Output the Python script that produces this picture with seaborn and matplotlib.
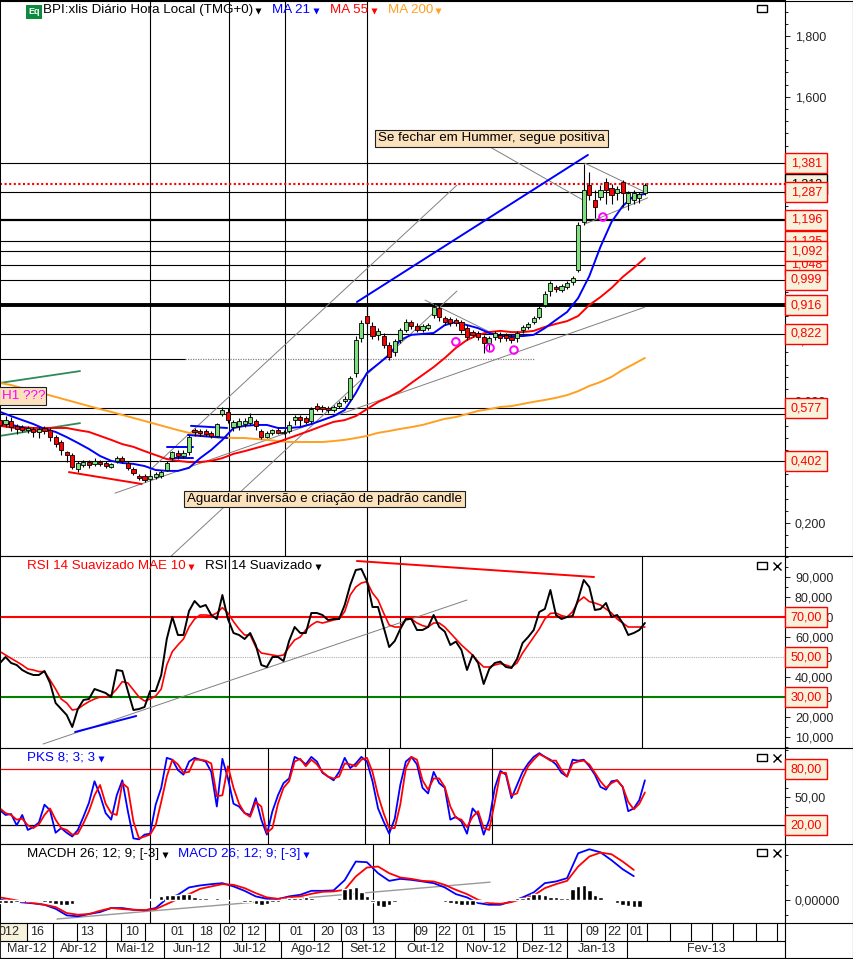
import matplotlib
matplotlib.use('Agg')
import matplotlib.pyplot as plt
import numpy as np
import seaborn as sns
from matplotlib.patches import Rectangle
from matplotlib.ticker import FuncFormatter, MultipleLocator

# candles, one every 2 sessions
opens = [.538,.525,.535,.519,.515,.505,.509,.499,.512,.505,.482,.466,.433,.423,.377,.390,.400,.394,.400,.397,.384,.404,.413,.397,.377,.354,.354,.344,.351,.354,
         .374,.413,.430,.420,.433,.505,.502,.502,.496,.486,.558,.565,.515,.519,.525,.528,.535,.502,.482,.496,.505,.496,.502,.538,.548,.545,.535,.584,.581,.578,
         .571,.584,.601,.607,.693,.808,.880,.847,.817,.814,.785,.762,.801,.834,.860,.847,.834,.841,.883,.906,.873,.870,.867,.860,.841,.827,.824,.811,.791,.811,
         .817,.817,.811,.808,.834,.844,.860,.877,.916,.962,.975,.965,.975,.992,1.031,1.189,1.310,1.261,1.271,1.320,1.300,1.284,1.320,1.251,1.261,1.268,1.284]
closes = [.522,.538,.515,.509,.505,.512,.499,.509,.502,.482,.459,.440,.423,.384,.397,.400,.390,.404,.394,.387,.394,.413,.404,.381,.364,.348,.341,.354,.361,.367,
          .397,.433,.420,.430,.482,.499,.496,.492,.486,.525,.571,.538,.532,.535,.535,.548,.519,.482,.496,.505,.496,.499,.522,.548,.538,.532,.574,.574,.574,.571,
          .581,.594,.607,.676,.801,.857,.857,.814,.831,.785,.745,.798,.834,.860,.847,.834,.847,.850,.910,.877,.860,.857,.857,.834,.811,.817,.811,.791,.808,.824,
          .808,.808,.801,.824,.844,.854,.873,.906,.952,.988,.969,.978,.988,1.005,1.179,1.294,1.277,1.238,1.294,1.294,1.277,1.297,1.284,1.284,1.284,1.281,1.310]
highs = [.545,.551,.548,.525,.522,.519,.515,.515,.519,.512,.489,.473,.436,.430,.404,.407,.407,.413,.407,.404,.397,.420,.420,.404,.384,.361,.361,.361,.367,.374,
         .404,.436,.440,.440,.489,.512,.509,.509,.502,.528,.581,.578,.538,.545,.545,.561,.542,.509,.502,.509,.512,.505,.535,.555,.555,.551,.581,.594,.588,.584,
         .588,.601,.617,.683,.814,.867,.916,.860,.841,.824,.795,.804,.841,.870,.867,.857,.854,.857,.923,.916,.880,.877,.873,.867,.850,.834,.831,.817,.814,.831,
         .827,.824,.821,.831,.850,.860,.880,.913,.962,.995,.982,.985,.995,1.011,1.189,1.379,1.353,1.294,1.310,1.333,1.313,1.307,1.327,1.290,1.294,1.287,1.317]
lows = [.512,.515,.502,.492,.499,.496,.482,.479,.492,.469,.450,.423,.400,.377,.367,.384,.381,.387,.387,.381,.381,.397,.397,.374,.358,.341,.335,.338,.344,.348,
        .371,.407,.410,.413,.423,.486,.486,.486,.479,.482,.551,.528,.502,.505,.515,.522,.505,.476,.479,.489,.492,.492,.496,.522,.519,.525,.528,.568,.565,.561,
        .565,.578,.594,.601,.680,.795,.844,.804,.801,.775,.735,.749,.791,.827,.837,.827,.827,.834,.873,.864,.850,.847,.847,.824,.801,.811,.801,.758,.768,.801,
        .795,.798,.791,.795,.824,.837,.854,.870,.910,.946,.959,.959,.969,.982,1.024,1.179,1.261,1.202,1.261,1.248,1.248,1.261,1.238,1.228,1.248,1.251,1.277]

# moving averages, one every 4 sessions
ma21 = [.565,.551,.538,.525,.509,.499,.482,.463,.443,.420,.404,.397,.394,.387,.374,.371,.371,.381,.413,.440,.473,.512,.519,.522,.522,.512,.512,.515,.525,.538,
        .551,.571,.627,.693,.722,.752,.801,.818,.821,.824,.850,.860,.850,.840,.824,.814,.814,.814,.818,.840,.867,.893,.939,1.011,1.107,1.189,1.241,1.274,1.281]
ma55 = [.522,.515,.515,.512,.512,.512,.512,.505,.499,.486,.473,.459,.450,.436,.423,.410,.404,.400,.400,.404,.413,.427,.436,.446,.456,.466,.479,.492,.505,.519,
        .532,.538,.551,.574,.597,.614,.633,.660,.686,.712,.742,.775,.801,.818,.827,.831,.827,.827,.831,.844,.854,.863,.880,.916,.942,.972,1.008,1.038,1.070]
ma200 = [.660,.653,.643,.633,.624,.614,.604,.594,.584,.574,.565,.555,.545,.535,.525,.515,.505,.496,.489,.486,.482,.479,.479,.476,.473,.469,.466,.466,.466,.466,
         .469,.473,.479,.486,.496,.502,.509,.515,.522,.532,.542,.548,.558,.568,.574,.581,.584,.591,.598,.604,.611,.620,.633,.650,.663,.680,.703,.722,.742]

# RSI, one every 2 sessions
rsi = [47,50,47,46,43.5,42,41,41,43,37,27,24,21,15,24,28.5,29,34,33,32,30,43.5,43,33,23.5,24,25,33,33,41,
       59,70,61,61,73,78,75,76,71,69,81,69,62,61,59,62,56,46,45,50,50,48,58,65,62,62,72,72,71,68.5,
       69,69,76,86,93.5,94,88,75,75,65,55,58,64,69,69,63.5,63.5,65,71,65,62.7,56,57.7,53.5,43.5,51,47,36.5,44,47,
       47.7,45,44.5,49,57,60,63.5,72.5,74,83.5,71,69,70,70.5,79,88.5,85,73.5,74,77,70,71,67,61,62,63.5,67]
rsi_ma = [52.7,51,49.3,47.7,46,44,43.5,42.7,42.7,38.5,34,29,27,23.5,24,26,27.7,29,30,30,31,34,37.7,37,33.5,30,28,29,30.5,34,
          46,52.7,56,59,65,69,71,71,70.7,72,74.7,72,67.7,64,61,61,55,52,51.5,51,50.5,51,55,58.5,60,63.5,66,67.7,67,67.7,
          68.5,69,72.7,81,85,87,87.7,82,78.5,72,66,65,65,69,69,67,65.7,65,67,67,65,62,59,56,53.5,51,47.7,45,45,46,
          46.7,46,45,47,52,56,60,64,69,71.8,72,70.7,70,72.7,77.7,80,77.7,77,76,74,72,69,67,65,65,65,65]

# stochastic, one every 2 sessions
pks_fast = [36,31,32,20,31,15,18,23,42,36,12,17,12,8,15,29,44,67,52,33,26,52,68,35,6,5,10,11,42,60,
            92,90,79,74,88,92,90,88,77,40,91,70,43,40,33,31,49,26,10,35,52,65,70,93,90,85,93,88,76,72,
            68,77,92,81,86,93,88,67,38,24,11,27,63,88,93,85,60,54,77,65,60,26,29,24,11,38,31,10,26,60,
            78,74,49,63,77,86,93,97,93,90,85,76,72,90,89,90,83,74,61,58,67,68,61,35,38,47,68]
pks_slow = [38,33,31,26,27,20,17,21,31,38,26,17,15,10,11,22,35,52,63,43,33,31,65,60,24,6,8,10,20,45,
            72,90,85,76,77,90,90,89,86,51,52,83,60,43,33,29,45,40,12,17,43,60,67,88,91,83,90,85,77,72,
            70,72,86,85,83,90,92,77,52,33,17,17,42,81,93,90,68,58,70,70,61,40,28,26,18,29,35,17,15,45,
            76,76,52,54,70,83,90,96,93,89,89,79,72,86,88,89,85,76,67,60,65,68,61,45,37,43,55]

# MACD, one every 4 sessions, histogram one every 2 (thousandths of the price)
macd = [.3,-1.3,-2.3,-3.3,-4.7,-8.7,-15.3,-16.3,-14,-12,-8,-8,-9.7,-10.3,-8,1.3,5.3,12.7,14.7,16,17,13.7,9.3,3.7,1.3,1,3.7,5.3,9.3,9.3,
        9.7,20,38.7,38,27,19.3,21.3,20.3,18.7,17,12.7,6,2.7,-3,-4.7,-4.7,-1.3,2.7,7.7,17,18.7,22,47,51,48,40,31,24]
macd_signal = [2.7,.7,-1.3,-3,-4.7,-7,-13,-14.7,-14,-10.7,-8,-9,-9.7,-10,-9,-4,1,6,11.3,13.7,16,15.3,12,7,2.7,1.3,2.7,3.7,6.3,8.3,
               8.7,10.3,23.7,32.7,33.7,27,22.7,21.3,19.3,18.7,15.3,10.3,6,.3,-3,-3.7,-2,1.3,4.7,12,16,19.3,33.7,43.7,47.7,46,38.7,30.3]
macd_hist = [-3,-3,-3,-2,-1,-1,-1,-1,-2,-3,-4,-5,-5,-4,-1,-.5,0,.5,1,1,1,1,0,.5,.5,.5,0,1,1,4,
             5,5,5,6,6,3,2,2,1,2,.5,0,-1,-1,-2,-2,-4,-5,-4,-2,-2,1,2,2,2,3,2,1,1,0,
             .5,2,11,12,13,8,4,-2,-6,-7,-5,-2,-1,-1,-1,-1,-1,-1,-1,-1,-2,-3,-4,-5,-5,-5,-1,-1,-1,-1,
             -.5,.5,1,2,2,3,6,6,5,3,3,2,2,11,14,15,10,5,3,1,-1,-3,-5,-6,-7,-7]

# support and resistance levels read from the tags
levels = [1.381, 1.287, 1.125, 1.092, 1.048, .999, .822, .577, .557, .402]
heavy_levels = [1.196, .916]

# trend lines: session, price, session, price
gray_lines = [(41.4,.298,232,.909),(61.2,.088,164.4,.962),(54,.374,164.4,1.310),(152.9,.932,176.3,.827),
              (176.3,1.435,209.7,1.261),(210.4,1.382,232,1.287),(210.4,1.182,233,1.268)]
blue_lines = [(128.4,.926,211.5,1.409),(60,.450,69.4,.450),(61,.413,69.4,.413),(68.7,.519,81.7,.512),(67.6,.489,81.7,.479),(0,.532,14.4,.499)]
red_lines = [(24.8,.367,51,.328),(0,.519,13,.502)]
green_lines = [(0,.660,28.8,.699),(0,.486,28.8,.528)]
circle_x = [164, 176.3, 184.9, 216.9]
circle_y = [.795, .775, .768, 1.205]

# vertical cycle lines per panel, in sessions
main_vlines = [54.1, 82.3, 102.4, 132]
rsi_vlines = [54.1, 82.3, 132, 144, 231]
pks_vlines = [54.1, 82.3, 96.4, 131.3, 140, 176.9]
macd_vlines = [54.1, 82.3, 134.3]

month_labels = ['Mar-12','Abr-12','Mai-12','Jun-12','Jul-12','Ago-12','Set-12','Out-12','Nov-12','Dez-12','Jan-13','Fev-13']
month_edges = [0,19,38,59,79,101,123,142,164,186,204,225.5,282.4]
day_labels = ['012','16','13','10','01','18','02','12','01','20','03','13','09','22','01','15','11','09','22','01']
day_pos = [3.2,13.3,31.3,47.5,63.7,74,82.7,91,106.5,117.6,126.3,136,151.8,160,168.7,179.5,197.5,213,221,229]
day_edges = [9.7,19,27.7,38,43.5,52,59,69.5,79,87,95.5,100.5,113,122.5,130.5,142,149,157,164,174,185.6,191.4,
             204,209,217.6,225.5,232.7,241,248.6,256,263.7,272,279.5]

W, H = 854, 959
RED = '#ff0000'
BLUE = '#0000ff'
ORANGE = '#ffa020'
GREEN = '#008000'
GRAY = '#808080'
TAG_FILL = '#f7f2dc'
NOTE_FILL = '#fbe2bd'

sns.set_style('white')
plt.rcParams['font.family'] = ['Liberation Sans', 'DejaVu Sans']
plt.rcParams['font.size'] = 9
plt.rcParams['axes.linewidth'] = 0.75

fig = plt.figure(figsize=(W / 100, H / 100), dpi=100)


def panel(x0, y0, x1, y1):
    ax = fig.add_axes([x0 / W, 1 - y1 / H, (x1 - x0) / W, (y1 - y0) / H])
    ax.set_xlim(0, 282.4)
    ax.xaxis.set_visible(False)
    ax.yaxis.tick_right()
    ax.tick_params(axis='y', which='major', right=True, length=3.6, width=0.75, pad=3.6, labelsize=9)
    ax.tick_params(axis='y', which='minor', right=True, length=2.2, width=0.75)
    for side in ax.spines.values():
        side.set_color('black')
    return ax


def line(ax, x, y, color, lw=1.4, **kw):
    sns.lineplot(x=x, y=y, ax=ax, color=color, linewidth=lw, estimator=None, legend=False, **kw)


def segments(ax, rows, color, lw):
    for x0, y0, x1, y1 in rows:
        line(ax, [x0, x1], [y0, y1], color, lw)


def comma(decimals):
    return FuncFormatter(lambda v, _: f'{v:.{decimals}f}'.replace('.', ','))


ax_main = panel(0, 0, 785, 556)
ax_main.set_ylim(1.918 - 556 / 304.4, 1.918)
ax_main.yaxis.set_major_locator(MultipleLocator(0.2))
ax_main.yaxis.set_minor_locator(MultipleLocator(0.04))
ax_main.yaxis.set_major_formatter(comma(3))

ax_rsi = panel(0, 556, 785, 748)
ax_rsi.set_ylim(4.5, 100.5)
ax_rsi.set_yticks(range(10, 100, 10))
ax_rsi.yaxis.set_minor_locator(MultipleLocator(5))
ax_rsi.yaxis.set_major_formatter(comma(3))

ax_pks = panel(0, 748, 785, 844)
ax_pks.set_ylim(0, 102.5)
ax_pks.set_yticks([20, 50, 80])
ax_pks.yaxis.set_minor_locator(MultipleLocator(10))
ax_pks.yaxis.set_major_formatter(comma(2))

ax_macd = panel(0, 844, 785, 923)
ax_macd.set_ylim(-23, 56.3)
ax_macd.set_yticks([0])
ax_macd.yaxis.set_minor_locator(MultipleLocator(15))
ax_macd.yaxis.set_major_formatter(FuncFormatter(lambda v, _: '0,00000'))

ax_dates = fig.add_axes([0, 1 - 958 / H, 785 / W, 35 / H])
ax_dates.set_xlim(0, 282.4)
ax_dates.set_ylim(2, 0)
ax_dates.set_xticks([])
ax_dates.set_yticks([])

# main panel
for level in levels:
    ax_main.axhline(level, color='black', lw=0.8, zorder=1)
ax_main.axhline(1.196, color='black', lw=1.6, zorder=1)
ax_main.axhline(.916, color='black', lw=2.8, zorder=1)
ax_main.axhline(1.313, color=RED, lw=1.5, ls=(0, (1, 1.2)), zorder=2)
line(ax_main, [0, 66.5], [.739, .739], 'black', 0.8)
line(ax_main, [66.5, 192.4], [.739, .739], GRAY, 0.9, linestyle=(0, (1, 1)))
ax_main.vlines(main_vlines, 1.918 - 556 / 304.4, 1.918, color='black', lw=0.8, zorder=1)

segments(ax_main, gray_lines, GRAY, 0.7)
segments(ax_main, green_lines, '#2e8b57', 1.3)

line(ax_main, np.arange(len(ma200)) * 4, ma200, ORANGE)
line(ax_main, np.arange(len(ma55)) * 4, ma55, RED)
line(ax_main, np.arange(len(ma21)) * 4, ma21, BLUE)
segments(ax_main, blue_lines, BLUE, 1.4)
segments(ax_main, red_lines, RED, 1.4)

candle_x = np.arange(len(opens)) * 2
o = np.array(opens)
c = np.array(closes)
ax_main.vlines(candle_x, lows, highs, color='black', lw=0.8, zorder=5)
ax_main.bar(candle_x, np.abs(c - o), bottom=np.minimum(o, c), width=1.5,
            color=np.where(c >= o, '#7fe07f', RED), edgecolor='black', linewidth=0.6, zorder=6)

sns.scatterplot(x=circle_x, y=circle_y, ax=ax_main, s=30, facecolor='none', edgecolor='#ff00ff',
                linewidth=1.4, zorder=7, legend=False)

# RSI panel
ax_rsi.axhline(70, color=RED, lw=1.5, zorder=1)
ax_rsi.axhline(30, color=GREEN, lw=1.5, zorder=1)
ax_rsi.axhline(50, color='#b0b0b0', lw=0.8, ls=(0, (1, 1)), zorder=1)
ax_rsi.vlines(rsi_vlines, 4.5, 100.5, color='black', lw=0.8, zorder=1)
line(ax_rsi, [15.5, 168], [6.5, 78.5], GRAY, 0.7)
line(ax_rsi, [128.4, 213.7], [98, 90], RED, 1.4)
line(ax_rsi, [27, 49], [12.5, 20.5], BLUE, 1.4)
line(ax_rsi, np.arange(len(rsi_ma)) * 2, rsi_ma, RED, 1.2)
line(ax_rsi, np.arange(len(rsi)) * 2, rsi, 'black', 1.4)

# stochastic panel
ax_pks.axhline(80, color=RED, lw=0.9, zorder=1)
ax_pks.axhline(20, color='black', lw=0.9, zorder=1)
ax_pks.vlines(pks_vlines, 0, 102.5, color='black', lw=0.8, zorder=1)
line(ax_pks, np.arange(len(pks_fast)) * 2, pks_fast, BLUE, 1.3)
line(ax_pks, np.arange(len(pks_slow)) * 2, pks_slow, RED, 1.3)

# MACD panel
ax_macd.vlines(macd_vlines, -23, 56.3, color='black', lw=0.8, zorder=1)
line(ax_macd, [20.5, 176.3], [-19, 18], '#999999', 1.0)
ax_macd.bar(np.arange(len(macd_hist)) * 2, macd_hist, width=1.6, color='black', zorder=3)
line(ax_macd, np.arange(len(macd)) * 4, macd, BLUE, 1.3)
line(ax_macd, np.arange(len(macd_signal)) * 4, macd_signal, RED, 1.3)

# date rows
ax_dates.axhline(1, color='black', lw=0.8)
ax_dates.vlines(day_edges, 0, 1, color='black', lw=0.8)
ax_dates.vlines(month_edges[1:-1], 1, 2, color='black', lw=0.8)
ax_dates.axvspan(0, 9.7, ymin=0.5, ymax=1, color=TAG_FILL, zorder=0)
for label, pos in zip(day_labels, day_pos):
    ax_dates.text(pos, 0.5, label, ha='center', va='center', fontsize=9)
for i, label in enumerate(month_labels):
    ax_dates.text((month_edges[i] + month_edges[i + 1]) / 2, 1.5, label, ha='center', va='center', fontsize=9)

# overlay in image pixels for the chrome around the panels
over = fig.add_axes([0, 0, 1, 1], zorder=20)
over.set_xlim(0, W)
over.set_ylim(H, 0)
over.axis('off')
over.patch.set_alpha(0)


def tag(ax, value, text, fg, z):
    y = H - ax.transData.transform((0, value))[1]
    over.add_patch(Rectangle((785.5, y - 10), 42, 20, fc=TAG_FILL, ec=fg, lw=1, zorder=z))
    over.text(806.5, y, text, color=fg, ha='center', va='center', fontsize=9, zorder=z + 0.5)


# later tags sit on top of earlier ones, as in the terminal
tags = [
    (ax_main, 1.313, '1,313', 'black'), (ax_main, 1.125, '1,125', RED), (ax_main, 1.048, '1,048', RED),
    (ax_main, 1.381, '1,381', RED), (ax_main, 1.287, '1,287', RED), (ax_main, 1.196, '1,196', RED),
    (ax_main, 1.092, '1,092', RED), (ax_main, .999, '0,999', RED), (ax_main, .916, '0,916', RED),
    (ax_main, .822, '0,822', RED), (ax_main, .577, '0,577', RED), (ax_main, .402, '0,402', RED),
    (ax_rsi, 70, '70,00', RED), (ax_rsi, 50, '50,00', RED), (ax_rsi, 30, '30,00', RED),
    (ax_pks, 80, '80,00', RED), (ax_pks, 20, '20,00', RED),
]
for i, (ax, value, text, fg) in enumerate(tags):
    tag(ax, value, text, fg, 10 + i)

# panel dividers run on to the right edge
for y in [0.5, 556, 748, 844, 923]:
    over.plot([0, 853], [y, y], color='black', lw=0.8)
over.plot([785, 785], [0, 958], color='black', lw=0.8)
over.plot([853, 853], [0, 958], color='black', lw=0.8)
over.plot([0, 853], [958, 958], color='black', lw=0.8)


def note(x0, y0, x1, y1, text, color='black'):
    over.add_patch(Rectangle((x0, y0), x1 - x0, y1 - y0, fc=NOTE_FILL, ec='#202020', lw=0.8))
    over.text(x0 + 3, (y0 + y1) / 2, text, color=color, ha='left', va='center', fontsize=9.6)


note(375.5, 130, 608, 147, 'Se fechar em Hummer, segue positiva')
note(184, 491, 465, 507, 'Aguardar inversão e criação de padrão candle')
note(-1, 387, 46.5, 405, 'H1 ???', '#ff00ff')

# legend strips
over.add_patch(Rectangle((26, 5), 16, 14, fc='#0c8a3e', ec='none'))
over.text(34, 12, 'Eq', color='white', ha='center', va='center', fontsize=6.5, fontweight='bold')
for x, y, text, color in [
    (43, 10, 'BPI:xlis Diário Hora Local (TMG+0)', 'black'), (272, 10, 'MA 21', BLUE), (330, 10, 'MA 55', RED),
    (388, 10, 'MA 200', ORANGE), (27, 566, 'RSI 14 Suavizado MAE 10', RED), (205, 566, 'RSI 14 Suavizado', 'black'),
    (27, 758, 'PKS 8; 3; 3', BLUE), (27, 854, 'MACDH 26; 12; 9; [-3]', 'black'), (178, 854, 'MACD 26; 12; 9; [-3]', BLUE),
]:
    over.text(x, y, text, color=color, ha='left', va='center', fontsize=9.6)
for x, y, color in [(258, 11, 'black'), (316, 11, BLUE), (374, 11, RED), (438, 11, ORANGE), (191, 567, RED),
                    (318, 567, 'black'), (101, 759, BLUE), (165, 855, 'black'), (306, 855, BLUE)]:
    over.plot([x], [y], marker='v', ms=3.8, color=color, mec='none')

# window buttons
for y, closable in [(5, False), (562, True), (754, True), (849, True)]:
    over.add_patch(Rectangle((757, y), 10, 7, fc='white', ec='black', lw=1))
    if closable:
        over.plot([777], [y + 3.5], marker='x', ms=5.5, mew=1, color='black')

fig.savefig('out.png', dpi=100)
